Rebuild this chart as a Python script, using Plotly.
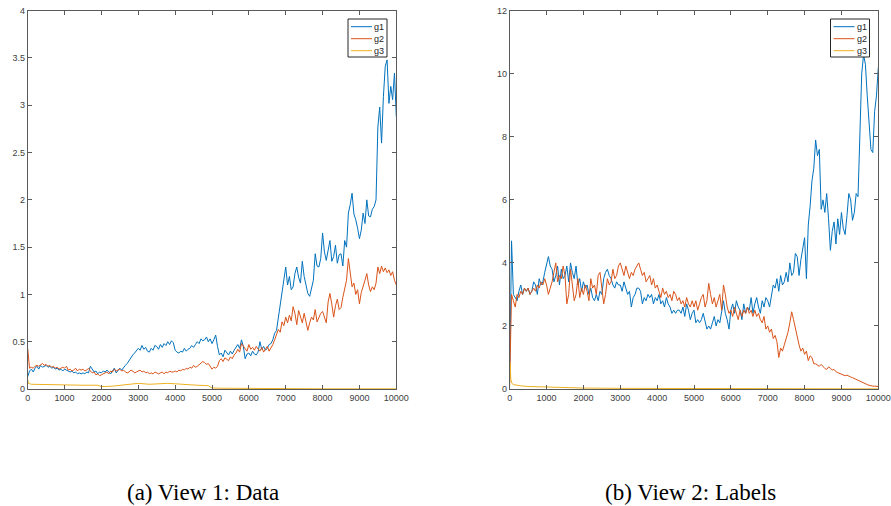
import plotly.graph_objects as go

# ---------------- data ----------------
steps = list(range(0, 10001, 50))  # iteration grid shared by g1 / g2 series

# View 1: Data
v1_g1 = [
    0.13, 0.19, 0.21, 0.18, 0.22, 0.24, 0.21, 0.25, 0.23, 0.24,
    0.25, 0.23, 0.24, 0.22, 0.23, 0.21, 0.22, 0.20, 0.21, 0.19,
    0.21, 0.20, 0.19, 0.18, 0.19, 0.17, 0.18, 0.16, 0.17, 0.16,
    0.17, 0.16, 0.18, 0.17, 0.24, 0.21, 0.18, 0.19, 0.16, 0.18,
    0.17, 0.19, 0.18, 0.20, 0.18, 0.16, 0.19, 0.22, 0.17, 0.20,
    0.22, 0.20, 0.23, 0.25, 0.27, 0.30, 0.34, 0.36, 0.38, 0.40,
    0.43, 0.41, 0.46, 0.42, 0.44, 0.40, 0.39, 0.43, 0.41, 0.46,
    0.45, 0.42, 0.47, 0.44, 0.48, 0.46, 0.50, 0.47, 0.51, 0.49,
    0.41, 0.39, 0.38, 0.40, 0.39, 0.43, 0.40, 0.42, 0.43, 0.46,
    0.44, 0.47, 0.50, 0.48, 0.53, 0.51, 0.52, 0.55, 0.50, 0.53,
    0.48, 0.52, 0.57, 0.45, 0.36, 0.38, 0.34, 0.41, 0.39, 0.36,
    0.40, 0.37, 0.41, 0.44, 0.47, 0.43, 0.52, 0.45, 0.32, 0.37,
    0.38, 0.35, 0.40, 0.37, 0.36, 0.39, 0.50, 0.42, 0.45, 0.41,
    0.43, 0.47, 0.48, 0.52, 0.59, 0.62, 0.76, 0.85, 1.01, 1.15,
    1.29, 1.10, 1.19, 1.05, 1.08, 1.22, 1.29, 1.18, 1.12, 1.35,
    1.19, 1.10, 1.01, 0.98, 1.08, 1.15, 1.43, 1.30, 1.29, 1.38,
    1.65, 1.45, 1.36, 1.48, 1.57, 1.35, 1.40, 1.52, 1.33, 1.42,
    1.43, 1.30, 1.57, 1.50, 1.86, 1.95, 2.07, 1.85, 1.79, 1.70,
    1.59, 1.68, 1.86, 1.75, 2.00, 1.83, 1.82, 1.90, 1.93, 2.00,
    2.77, 2.98, 2.60, 3.09, 3.41, 3.48, 3.02, 3.20, 3.06, 3.34,
    2.88,
]
v1_g2 = [
    0.43, 0.22, 0.23, 0.22, 0.24, 0.25, 0.24, 0.26, 0.27, 0.25,
    0.26, 0.24, 0.25, 0.23, 0.24, 0.22, 0.23, 0.21, 0.22, 0.23,
    0.22, 0.24, 0.20, 0.21, 0.19, 0.20, 0.22, 0.19, 0.21, 0.20,
    0.21, 0.19, 0.20, 0.22, 0.19, 0.17, 0.18, 0.15, 0.16, 0.14,
    0.15, 0.16, 0.17, 0.18, 0.16, 0.19, 0.18, 0.21, 0.19, 0.20,
    0.21, 0.19, 0.20, 0.18, 0.17, 0.18, 0.20, 0.19, 0.17, 0.18,
    0.19, 0.20, 0.18, 0.19, 0.17, 0.18, 0.16, 0.17, 0.16, 0.18,
    0.17, 0.16, 0.17, 0.18, 0.16, 0.18, 0.17, 0.19, 0.18, 0.18,
    0.19, 0.18, 0.20, 0.19, 0.21, 0.20, 0.22, 0.21, 0.23, 0.22,
    0.25, 0.23, 0.24, 0.26, 0.27, 0.29, 0.28, 0.26, 0.27, 0.24,
    0.21, 0.23, 0.22, 0.24, 0.30, 0.32, 0.29, 0.33, 0.31, 0.30,
    0.34, 0.32, 0.36, 0.38, 0.42, 0.39, 0.48, 0.45, 0.43, 0.40,
    0.47, 0.42, 0.44, 0.41, 0.45, 0.43, 0.40, 0.44, 0.39, 0.42,
    0.45, 0.40, 0.43, 0.47, 0.52, 0.58, 0.63, 0.60, 0.71, 0.67,
    0.76, 0.70, 0.78, 0.72, 0.87, 0.80, 0.68, 0.83, 0.75, 0.70,
    0.80, 0.72, 0.62, 0.70, 0.76, 0.73, 0.84, 0.71, 0.75, 0.80,
    0.82, 0.75, 0.70, 0.92, 1.01, 0.90, 0.76, 0.88, 0.95, 0.84,
    0.86, 0.97, 1.05, 1.15, 1.38, 1.25, 1.08, 1.12, 1.00, 1.05,
    0.90, 1.02, 1.10, 1.15, 1.22, 1.10, 1.03, 1.08, 1.05, 1.12,
    1.29, 1.22, 1.30, 1.24, 1.28, 1.23, 1.26, 1.20, 1.24, 1.15,
    1.10,
]
v1_g3_x = [0, 20, 100, 500, 1000, 1500, 1900, 2000, 2300, 2600, 2900, 3000, 3300,
           3600, 3800, 4000, 4300, 4600, 4900, 5000, 5300, 6000, 7000, 8000, 9000, 10000]
v1_g3 = [0.10, 0.06, 0.05, 0.045, 0.045, 0.04, 0.04, 0.025, 0.03, 0.04, 0.055, 0.06, 0.05,
         0.055, 0.06, 0.055, 0.045, 0.04, 0.035, 0.01, 0.008, 0.005, 0.003, 0.002, 0.002, 0.002]

# View 2: Labels
v2_g1 = [
    0.3, 4.7, 3.0, 2.9, 2.8, 3.1, 3.3, 3.0, 3.2, 3.1,
    3.2, 3.0, 3.1, 3.4, 3.3, 3.0, 3.5, 3.3, 3.4, 3.7,
    4.0, 4.2, 3.9, 3.8, 3.4, 3.6, 3.9, 3.3, 3.8, 3.5,
    3.6, 3.9, 3.4, 4.0, 3.7, 3.5, 3.9, 3.3, 3.5, 3.1,
    3.4, 3.2, 3.3, 3.0, 3.2, 2.9, 2.8, 3.0, 2.8, 3.1,
    3.0, 3.5, 3.7, 3.8, 3.6, 3.5, 3.3, 3.2, 3.4, 3.3,
    3.3, 3.1, 3.4, 3.2, 3.0, 3.1, 2.6, 2.9, 3.0, 3.2,
    3.2, 3.1, 2.7, 2.9, 2.8, 3.0, 2.9, 3.0, 2.7, 2.9,
    2.8, 3.0, 2.7, 2.8, 2.6, 2.9, 2.7, 2.6, 2.4, 2.5,
    2.4, 2.5, 2.5, 2.4, 2.6, 2.3, 2.7, 2.5, 2.2, 2.4,
    2.5, 2.1, 2.2, 2.1, 2.2, 2.4, 2.1, 1.9, 2.0, 1.9,
    2.1, 2.3, 2.0, 2.2, 2.1, 2.4, 2.8, 2.4, 2.2, 1.9,
    2.5, 2.7, 2.4, 2.8, 2.6, 2.5, 2.2, 2.7, 2.4, 2.6,
    2.5, 2.9, 2.4, 2.7, 2.9, 2.6, 2.4, 2.8, 2.6, 2.9,
    2.8, 2.6, 3.0, 3.3, 3.2, 3.5, 3.1, 3.6, 3.3, 3.4,
    3.7, 3.4, 4.0, 3.6, 3.7, 4.3, 4.2, 3.6, 4.1, 4.5,
    4.8, 3.5, 5.2, 5.8, 6.6, 7.0, 7.9, 7.4, 7.6, 5.7,
    6.0, 5.6, 6.2, 5.4, 4.4, 5.0, 5.3, 4.6, 5.4, 4.9,
    5.6, 5.1, 4.9, 5.5, 6.2, 6.0, 5.35, 5.6, 6.2, 6.1,
    8.1, 10.0, 10.6, 10.3, 9.3, 8.5, 7.6, 7.5, 8.8, 9.3,
    10.2,
]
v2_g2 = [
    0.2, 3.0, 2.8, 2.6, 3.0, 2.9, 3.1, 3.0, 3.2, 3.1,
    3.2, 3.0, 3.1, 3.2, 3.1, 3.3, 3.2, 3.4, 3.3, 3.5,
    3.3, 3.0, 3.2, 3.4, 3.7, 4.0, 3.4, 3.6, 3.5, 3.9,
    3.6, 2.7, 3.0, 3.8, 3.3, 2.8, 3.0, 3.5, 2.9, 3.2,
    3.0, 3.3, 3.1, 2.8, 3.5, 3.2, 3.3, 3.0, 3.6, 3.7,
    3.2, 2.7, 3.0, 3.5, 3.3, 3.4, 3.8, 3.5, 3.6, 3.9,
    4.0, 3.8, 3.6, 3.9, 3.7, 3.5, 3.7, 3.6, 3.8, 3.9,
    4.0, 3.8, 3.6, 3.7, 3.4, 3.5, 3.6, 3.3, 3.5, 3.2,
    3.3, 3.1, 2.9, 3.2, 3.0, 3.1, 2.9, 3.0, 2.8, 3.1,
    3.0, 2.8, 2.9, 2.7, 2.8, 2.6, 2.9, 2.7, 2.6, 2.8,
    2.6, 2.8, 2.5, 2.7, 2.9, 3.0, 2.6, 2.8, 3.35, 3.0,
    2.7, 2.9, 2.6, 2.8, 3.0, 2.5, 3.3, 3.0, 2.6, 2.4,
    2.5, 2.3, 2.6, 2.4, 2.2, 2.5, 2.3, 2.5, 2.4, 2.6,
    2.4, 2.5, 2.3, 2.5, 2.3, 2.4, 2.2, 2.1, 2.3, 1.9,
    2.0, 1.8, 1.9, 1.6, 1.7, 1.5, 1.0, 1.3, 1.2, 1.4,
    1.6, 1.8, 2.1, 2.45, 2.2, 1.9, 1.6, 1.4, 1.2, 1.3,
    1.1, 1.2, 0.9, 1.05, 1.0, 0.8, 0.8, 0.75, 0.72, 0.78,
    0.7, 0.65, 0.62, 0.7, 0.66, 0.6, 0.62, 0.55, 0.52, 0.5,
    0.48, 0.45, 0.42, 0.44, 0.4, 0.38, 0.36, 0.33, 0.3, 0.28,
    0.25, 0.22, 0.2, 0.17, 0.14, 0.12, 0.1, 0.09, 0.09, 0.08,
    0.08,
]
v2_g3_x = [0, 10, 30, 60, 100, 200, 300, 500, 800, 1000, 1500, 2000, 3000, 4000,
           5000, 6000, 8000, 10000]
v2_g3 = [0.1, 0.85, 0.3, 0.18, 0.14, 0.11, 0.1, 0.08, 0.07, 0.06, 0.04, 0.03, 0.02,
         0.015, 0.01, 0.008, 0.005, 0.004]

series_names = ["g1", "g2", "g3"]
colors = ["#0072BD", "#D95319", "#EDB120"]
x_ticks = [0, 1000, 2000, 3000, 4000, 5000, 6000, 7000, 8000, 9000, 10000]
x_tick_labels = ["0", "1000", "2000", "3000", "4000", "5000", "6000", "7000", "8000",
                 "9000", "10000"]
y1_ticks = [0, 0.5, 1, 1.5, 2, 2.5, 3, 3.5, 4]
y1_tick_labels = ["0", "0.5", "1", "1.5", "2", "2.5", "3", "3.5", "4"]
y2_ticks = [0, 2, 4, 6, 8, 10, 12]
y2_tick_labels = ["0", "2", "4", "6", "8", "10", "12"]
captions = ["(a) View 1: Data", "(b) View 2: Labels"]

# ---------------- figure ----------------
W, H = 891, 506
fig = go.Figure()

panels = [
    [(steps, v1_g1), (steps, v1_g2), (v1_g3_x, v1_g3)],
    [(steps, v2_g1), (steps, v2_g2), (v2_g3_x, v2_g3)],
]
for p, data in enumerate(panels):
    xa = "x" if p == 0 else "x2"
    ya = "y" if p == 0 else "y2"
    for (xs, ys), name, c in zip(data, series_names, colors):
        fig.add_trace(go.Scatter(x=xs, y=ys, mode="lines", name=name,
                                 line=dict(color=c, width=1), showlegend=False,
                                 xaxis=xa, yaxis=ya))

axis_common = dict(showline=True, linecolor="#5a5a5a", linewidth=1, mirror="ticks",
                   ticks="inside", ticklen=4, tickcolor="#5a5a5a", showgrid=False,
                   zeroline=False, automargin=False,
                   tickfont=dict(family="Liberation Sans, Arial", size=9, color="#404040"))

ytop = 1 - 10.7 / H
ybot = 1 - 389 / H
fig.update_layout(
    width=W, height=H, margin=dict(l=0, r=0, t=0, b=0),
    paper_bgcolor="white", plot_bgcolor="white", showlegend=False,
    xaxis=dict(domain=[27.7 / W, 396.3 / W], range=[0, 10000], tickvals=x_ticks,
               ticktext=x_tick_labels, anchor="y", **axis_common),
    yaxis=dict(domain=[ybot, ytop], range=[0, 4], tickvals=y1_ticks,
               ticktext=y1_tick_labels, anchor="x", **axis_common),
    xaxis2=dict(domain=[509.7 / W, 878.3 / W], range=[0, 10000], tickvals=x_ticks,
                ticktext=x_tick_labels, anchor="y2", **axis_common),
    yaxis2=dict(domain=[ybot, ytop], range=[0, 12], tickvals=y2_ticks,
                ticktext=y2_tick_labels, anchor="x2", **axis_common),
)

# compact MATLAB-style legend boxes (one per panel)
def px_x(v):
    return v / W

def px_y(v):
    return 1 - v / H

legend_boxes = [(348, 19), (830.5, 19)]
box_w, box_h, row_h = 39, 38, 12
for bx, by in legend_boxes:
    fig.add_shape(type="rect", xref="paper", yref="paper",
                  x0=px_x(bx), x1=px_x(bx + box_w), y0=px_y(by), y1=px_y(by + box_h),
                  line=dict(color="#262626", width=1), fillcolor="white", layer="above")
    for i, (name, c) in enumerate(zip(series_names, colors)):
        ry = by + 7.7 + i * row_h
        fig.add_shape(type="line", xref="paper", yref="paper",
                      x0=px_x(bx + 3), x1=px_x(bx + 24), y0=px_y(ry), y1=px_y(ry),
                      line=dict(color=c, width=1), layer="above")
        fig.add_annotation(x=px_x(bx + 24), y=px_y(ry), xref="paper", yref="paper",
                           text=name, showarrow=False, xanchor="left", yanchor="middle",
                           font=dict(family="Liberation Sans, Arial", size=9,
                                     color="#262626"))

for cx, text in zip([202.5 / W, 690.5 / W], captions):
    fig.add_annotation(x=cx, y=0, xref="paper", yref="paper",
                       text=text, showarrow=False, xanchor="center", yanchor="bottom",
                       borderpad=0,
                       font=dict(family="Liberation Serif, Times New Roman", size=23,
                                 color="black"))

fig.write_html("out.html")
